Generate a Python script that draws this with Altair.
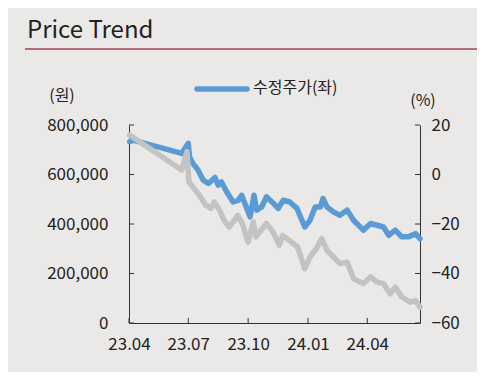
import altair as alt
import pandas as pd

# ---- data ----
blue_dates = ["2023/04/02", "2023/04/07", "2023/06/21", "2023/07/01", "2023/07/03", "2023/07/08",
              "2023/07/16", "2023/07/24", "2023/08/01", "2023/08/11", "2023/08/16", "2023/08/21",
              "2023/08/29", "2023/09/08", "2023/09/16", "2023/09/21", "2023/09/26", "2023/10/04",
              "2023/10/10", "2023/10/14", "2023/10/22", "2023/10/29", "2023/11/09", "2023/11/16",
              "2023/11/24", "2023/12/04", "2023/12/15", "2023/12/27", "2024/01/04", "2024/01/12",
              "2024/01/20", "2024/01/24", "2024/01/30", "2024/02/09", "2024/02/19", "2024/03/01",
              "2024/03/11", "2024/03/26", "2024/04/06", "2024/04/16", "2024/04/26", "2024/05/04",
              "2024/05/14", "2024/05/24", "2024/06/03", "2024/06/14", "2024/06/21"]
blue_values = [732000, 739000, 685000, 726000, 672000, 645000,
               618000, 577000, 564000, 588000, 557000, 570000,
               530000, 489000, 496000, 516000, 483000, 429000,
               516000, 456000, 469000, 510000, 483000, 463000,
               496000, 489000, 463000, 388000, 415000, 469000,
               469000, 503000, 469000, 449000, 435000, 456000,
               415000, 375000, 402000, 395000, 388000, 354000,
               375000, 348000, 348000, 361000, 341000]

gray_dates = ["2023/04/02", "2023/06/21", "2023/06/29", "2023/07/02", "2023/07/08", "2023/07/18",
              "2023/07/28", "2023/08/05", "2023/08/10", "2023/08/18", "2023/08/25", "2023/09/02",
              "2023/09/10", "2023/09/15", "2023/09/22", "2023/10/01", "2023/10/09", "2023/10/13",
              "2023/10/23", "2023/10/29", "2023/11/08", "2023/11/18", "2023/11/23", "2023/12/03",
              "2023/12/16", "2023/12/27", "2024/01/04", "2024/01/14", "2024/01/22", "2024/01/30",
              "2024/02/09", "2024/02/19", "2024/03/01", "2024/03/11", "2024/03/26", "2024/04/06",
              "2024/04/16", "2024/04/26", "2024/05/06", "2024/05/14", "2024/05/24", "2024/06/06",
              "2024/06/14", "2024/06/21"]
gray_values = [15.9, 1.8, 9.2, -3.0, -5.0, -8.4,
               -12.4, -13.7, -11.1, -14.4, -18.5, -21.2,
               -18.5, -16.5, -19.8, -27.3, -19.2, -25.2,
               -21.8, -19.8, -23.2, -28.6, -24.6, -26.6,
               -29.3, -38.0, -33.3, -29.9, -25.9, -30.6,
               -33.3, -36.0, -35.4, -42.1, -44.1, -41.4,
               -43.5, -44.1, -48.2, -45.5, -49.5, -51.6,
               -50.9, -53.6]

x_tick_dates = ["2023/04/01", "2023/07/01", "2023/10/01", "2024/01/01", "2024/04/01"]
left_ticks = [0, 200000, 400000, 600000, 800000]
right_ticks = [-60, -40, -20, 0, 20]

title_text = "Price Trend"
legend_label = "수정주가(좌)"
left_unit = "(원)"
right_unit = "(%)"

# ---- styling ----
W, H = 291, 198
FONT = "Noto Sans CJK KR"
BLUE = "#5b9bd5"
GRAY = "#c3c3c3"
AXIS_C = "#333333"
TEXT_C = "#222222"
LBL = 17

df_blue = pd.DataFrame({"date": blue_dates, "price": blue_values})
df_gray = pd.DataFrame({"date": gray_dates, "pct": gray_values})

xscale = alt.Scale(domain=[alt.DateTime(year=2023, month=4, date=1),
                           alt.DateTime(year=2024, month=6, date=21)])
yl_scale = alt.Scale(domain=[0, 800000], nice=False, zero=False)
yr_scale = alt.Scale(domain=[-60, 20], nice=False, zero=False)

xaxis = alt.Axis(tickCount={"interval": "month", "step": 3}, format="%y.%m", ticks=False,
                 grid=False, title=None, labelPadding=13, labelFontSize=LBL,
                 domainColor=AXIS_C, labelColor=TEXT_C, labelFont=FONT, labelFlush=False)
laxis = alt.Axis(values=left_ticks, format=",d", ticks=False, grid=False, title=None,
                 orient="left", labelPadding=21, labelFontSize=LBL, domainColor=AXIS_C,
                 labelColor=TEXT_C, labelFont=FONT)
raxis = alt.Axis(values=right_ticks, format="d", ticks=False, grid=False, title=None,
                 orient="right", labelPadding=11, labelFontSize=LBL, domainColor=AXIS_C,
                 labelColor=TEXT_C, labelFont=FONT)

blue = alt.Chart(df_blue).mark_line(color=BLUE, strokeWidth=5.5, strokeJoin="round",
                                    strokeCap="round").encode(
    x=alt.X("date:T", scale=xscale, axis=xaxis),
    y=alt.Y("price:Q", scale=yl_scale, axis=laxis),
)
gray = alt.Chart(df_gray).mark_line(color=GRAY, strokeWidth=5.5, strokeJoin="round",
                                    strokeCap="round").encode(
    x=alt.X("date:T", scale=xscale, axis=xaxis),
    y=alt.Y("pct:Q", scale=yr_scale, axis=raxis),
)

# inward tick marks
lt = alt.Chart(pd.DataFrame({"v": left_ticks})).mark_rule(color=AXIS_C, strokeWidth=1).encode(
    y=alt.Y("v:Q", scale=yl_scale, axis=None), x=alt.value(0), x2=alt.value(5))
rt = alt.Chart(pd.DataFrame({"v": right_ticks})).mark_rule(color=AXIS_C, strokeWidth=1).encode(
    y=alt.Y("v:Q", scale=yr_scale, axis=None), x=alt.value(W - 5), x2=alt.value(W))
xt = alt.Chart(pd.DataFrame({"d": x_tick_dates})).mark_rule(color=AXIS_C, strokeWidth=1).encode(
    x=alt.X("d:T", scale=xscale, axis=xaxis), y=alt.value(H - 5), y2=alt.value(H))

# title, separator, legend, units
title = alt.Chart(pd.DataFrame({"t": [title_text]})).mark_text(
    align="left", baseline="alphabetic", fontSize=24, font=FONT, color=TEXT_C).encode(
    text="t:N", x=alt.value(-102), y=alt.value(-87))
sep = alt.Chart(pd.DataFrame({"t": [0]})).mark_rule(color="#b86a7c", strokeWidth=2).encode(
    x=alt.value(-104), x2=alt.value(348), y=alt.value(-76))
leg_line = alt.Chart(pd.DataFrame({"t": [0]})).mark_rule(
    color=BLUE, strokeWidth=5.5, strokeCap="round").encode(
    x=alt.value(68), x2=alt.value(118), y=alt.value(-36))
leg_text = alt.Chart(pd.DataFrame({"t": [legend_label]})).mark_text(
    align="left", baseline="middle", fontSize=16, font=FONT, color=TEXT_C).encode(
    text="t:N", x=alt.value(124), y=alt.value(-37))
lunit = alt.Chart(pd.DataFrame({"t": [left_unit]})).mark_text(
    align="center", baseline="middle", fontSize=16, font=FONT, color=TEXT_C).encode(
    text="t:N", x=alt.value(-67), y=alt.value(-29))
runit = alt.Chart(pd.DataFrame({"t": [right_unit]})).mark_text(
    align="center", baseline="middle", fontSize=16, font=FONT, color=TEXT_C).encode(
    text="t:N", x=alt.value(294), y=alt.value(-24))

chart = alt.layer(blue, gray, lt, rt, xt, title, sep, leg_line, leg_text, lunit, runit).resolve_scale(
    y="independent"
).properties(
    width=W, height=H,
    autosize=alt.AutoSizeParams(type="none"),
    padding={"left": 121, "top": 117, "right": 57, "bottom": 49},
    background="#ebe9e7",
).configure_view(stroke=None)

chart.save("out.html", embed_options={"renderer": "svg", "actions": False})
